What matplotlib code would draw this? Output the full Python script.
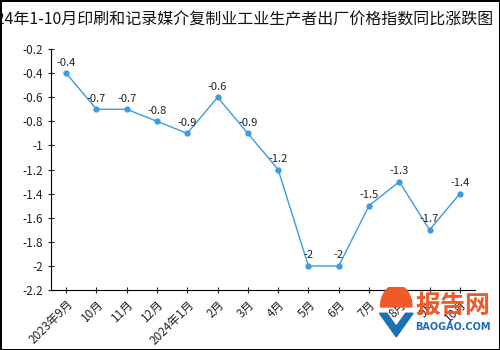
import matplotlib.pyplot as plt
from matplotlib.patches import Wedge, Polygon

plt.rcParams['font.family'] = ['Noto Sans CJK SC', 'DejaVu Sans']
plt.rcParams['axes.unicode_minus'] = False

months = ['2023年9月', '10月', '11月', '12月', '2024年1月', '2月', '3月',
          '4月', '5月', '6月', '7月', '8月', '9月', '10月']
values = [-0.4, -0.7, -0.7, -0.8, -0.9, -0.6, -0.9, -1.2, -2, -2, -1.5, -1.3, -1.7, -1.4]
title = '2024年1-10月印刷和记录媒介复制业工业生产者出厂价格指数同比涨跌图（%）'

fig = plt.figure(figsize=(5, 3.5), dpi=100)
fig.patch.set_edgecolor('black')
fig.patch.set_linewidth(2)
ax = fig.add_axes([0.102, 0.171, 0.848, 0.689])

x = range(len(values))
ax.plot(x, values, color='#3d9be0', linewidth=1, marker='o', markersize=3.5)
for i, v in zip(x, values):
    ax.annotate(f'{v:g}', (i, v), xytext=(0, 4), textcoords='offset points',
                ha='center', va='bottom', fontsize=8, color='#222222')

ax.set_xlim(-0.5, len(values) - 0.5)
ax.set_ylim(-2.2, -0.2)
ax.set_yticks([-2.2 + 0.2 * k for k in range(11)])
ax.set_yticklabels([f'{-2.2 + 0.2 * k:.1f}'.rstrip('0').rstrip('.') for k in range(11)])
ax.set_xticks(list(x))
ax.set_xticklabels(months, rotation=45, ha='right', rotation_mode='anchor')
ax.tick_params(direction='inout', length=4, labelsize=8.5, colors='#222222')
ax.spines['top'].set_visible(False)
ax.spines['right'].set_visible(False)

fig.text(0.518, 0.942, title, ha='center', va='center', fontsize=11.5, color='#111111')

# watermark logo in the lower right corner
logo = fig.add_axes([0.755, 0.03, 0.075, 0.15])
logo.set_xlim(0, 1)
logo.set_ylim(0, 1)
logo.axis('off')
logo.add_patch(Wedge((0.5, 0.62), 0.42, 0, 180, color='#ee5a2a'))
logo.add_patch(Polygon([[0.05, 0.5], [0.5, 0.05], [0.95, 0.5], [0.75, 0.5], [0.5, 0.25], [0.25, 0.5]],
                       closed=True, color='#1f6fb5'))
fig.text(0.905, 0.125, '报告网', ha='center', va='center', fontsize=18,
         color='#ee5a2a', fontweight='bold')
fig.text(0.905, 0.065, 'BAOGAO.COM', ha='center', va='center', fontsize=7,
         color='#1f6fb5', fontweight='bold', family='DejaVu Sans')

fig.savefig('out.png', dpi=100)
